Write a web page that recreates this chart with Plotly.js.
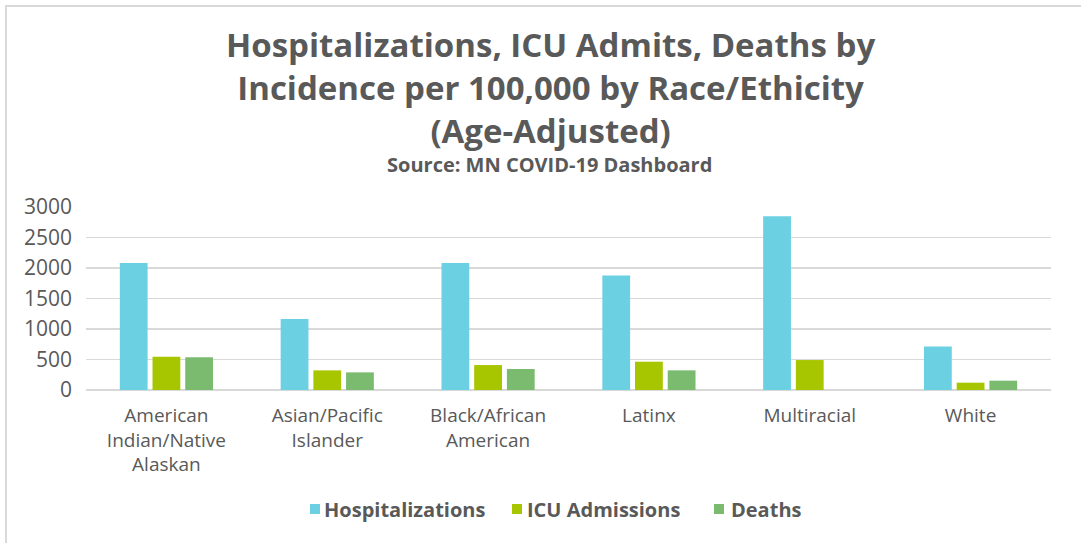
<!DOCTYPE html>
<html>
<head>
<meta charset="utf-8">
<script src="https://cdn.plot.ly/plotly-3.0.1.min.js"></script>
<style>
  html, body { margin: 0; padding: 0; background: #ffffff; overflow: hidden; }
  #frame { position: absolute; left: 5px; top: 5px; width: 1090px; height: 550px;
           border-left: 2px solid #D9D9D9; border-top: 2px solid #D9D9D9; box-sizing: border-box; }
  #chart { position: absolute; left: 5px; top: 5px; width: 1076px; height: 538px; }
</style>
</head>
<body>
<div id="frame"></div>
<div id="chart"></div>
<script>
const categories = [
  "American<br>Indian/Native<br>Alaskan",
  "Asian/Pacific<br>Islander",
  "Black/African<br>American",
  "Latinx",
  "Multiracial",
  "White"
];
const hospitalizations = [2080, 1162, 2080, 1876, 2847, 715];
const icuAdmissions = [545, 322, 409, 464, 491, 120];
const deaths = [535, 289, 344, 322, null, 153];

const seriesNames = ["Hospitalizations", "ICU Admissions", "Deaths"];
const titleLines = ["Hospitalizations, ICU Admits, Deaths by", "Incidence per 100,000 by Race/Ethicity", "(Age-Adjusted)"];
const subtitle = "Source: MN COVID-19 Dashboard";

const colors = ["#6BD1E2", "#A8C600", "#7BBB6F"];
const textColor = "#595959";
const fontFam = "'Open Sans', 'DejaVu Sans', sans-serif";

// plot-area geometry (window pixels) used to place title/legend in paper coords
const PL = 86, PW = 965, PB = 390, PH = 183;
const px = X => (X - PL) / PW;
const py = Y => (PB - Y) / PH;

const traces = [hospitalizations, icuAdmissions, deaths].map((vals, i) => ({
  type: "bar",
  name: seriesNames[i],
  x: categories,
  y: vals,
  marker: { color: colors[i] },
  showlegend: false
}));

const annotations = [];
annotations.push({
  text: titleLines.join("<br>"), xref: "paper", yref: "paper",
  x: px(550), y: py(20), xanchor: "center", yanchor: "top",
  showarrow: false,
  font: { size: 33, color: textColor, family: fontFam, weight: "bold" }
});
annotations.push({
  text: subtitle, xref: "paper", yref: "paper",
  x: px(549), y: py(164), xanchor: "center", yanchor: "middle",
  showarrow: false,
  font: { size: 20, color: textColor, family: fontFam, weight: "bold" }
});

// custom legend (square swatch + label)
const legSquareX = [310, 512, 714];
const legTextX = [324, 527, 731];
const legY = 509;
const shapes = [];
seriesNames.forEach((n, i) => {
  shapes.push({
    type: "rect", xref: "paper", yref: "paper",
    x0: px(legSquareX[i]), x1: px(legSquareX[i] + 10),
    y0: py(legY + 5), y1: py(legY - 5),
    fillcolor: colors[i], line: { width: 0 }
  });
  annotations.push({
    text: n, xref: "paper", yref: "paper",
    x: px(legTextX[i]), y: py(legY), xanchor: "left", yanchor: "middle",
    showarrow: false, xshift: -2,
    font: { size: 20, color: textColor, family: fontFam, weight: "bold" }
  });
});

const layout = {
  width: 1076,
  height: 538,
  margin: { l: 81, r: 30, t: 202, b: 153 },
  paper_bgcolor: "rgba(0,0,0,0)",
  plot_bgcolor: "rgba(0,0,0,0)",
  barmode: "group",
  bargap: 0.39,
  bargroupgap: 0.15,
  font: { family: fontFam, color: textColor },
  showlegend: false,
  xaxis: {
    type: "category",
    tickfont: { size: 19, color: textColor, family: fontFam },
    showgrid: false,
    showline: false,
    ticks: "",
    ticklabelstandoff: 12,
    automargin: false
  },
  yaxis: {
    range: [0, 3000],
    dtick: 500,
    tick0: 0,
    tickfont: { size: 21, color: textColor, family: fontFam },
    gridcolor: "#D9D9D9",
    gridwidth: 1.5,
    zeroline: true,
    zerolinecolor: "#D9D9D9",
    zerolinewidth: 1.5,
    showline: false,
    ticks: "",
    ticklabelstandoff: 13,
    automargin: false
  },
  shapes: shapes,
  annotations: annotations
};

Plotly.newPlot("chart", traces, layout, { displayModeBar: false, staticPlot: true });
</script>
</body>
</html>
